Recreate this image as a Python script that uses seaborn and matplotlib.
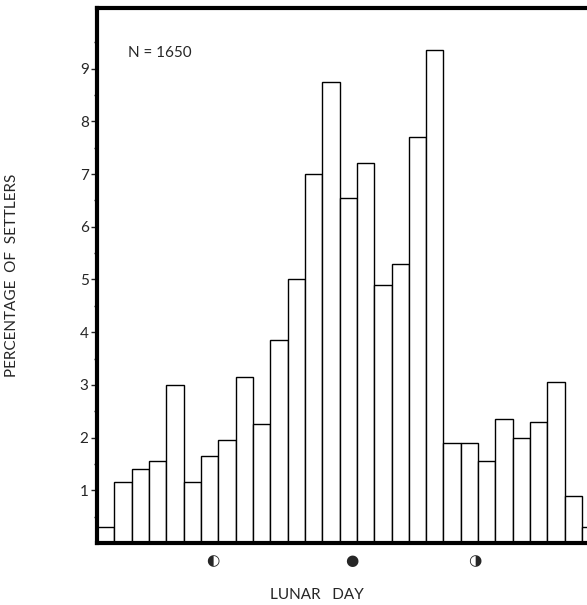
import matplotlib
matplotlib.use("Agg")
import matplotlib.pyplot as plt
import seaborn as sns
import numpy as np
import pandas as pd

sns.set_theme(style="white")
plt.rcParams["font.family"] = ["Lato", "DejaVu Sans"]

# ── Data ──────────────────────────────────────────────────────────────────────
days = list(range(1, 30))
percent = [0.3, 1.15, 1.4, 1.55, 3.0, 1.15, 1.65, 1.95, 3.15, 2.25, 3.85, 5.0,
           7.0, 8.75, 6.55, 7.2, 4.9, 5.3, 7.7, 9.35, 1.9, 1.9, 1.55, 2.35,
           2.0, 2.3, 3.05, 0.9, 0.3]
moon_pos = [6.67, 14.7, 21.8, 28.7]
moon_sym = ["◐", "●", "◑", "○"]

df = pd.DataFrame({"day": days, "pct": percent})

fig = plt.figure(figsize=(5.87, 6.05), dpi=100)
ax = fig.add_axes([97 / 587, 62 / 605, 1.03 - 97 / 587, 535 / 605])

ax.bar(df["day"] - 0.5, df["pct"], width=1.0, color="white",
       edgecolor="black", linewidth=1.0)

ax.set_xlim(0, 29.3)
ax.set_ylim(0, 10.15)
ax.set_yticks(range(1, 10))
ax.set_yticks(np.arange(0.5, 10, 0.5), minor=True)
ax.set_xticks([])
ax.tick_params(axis="y", which="major", direction="out", length=4, width=1,
               labelsize=11, left=True, pad=2)
ax.tick_params(axis="y", which="minor", direction="out", length=2, width=1, left=True)
for s in ax.spines.values():
    s.set_linewidth(3)
    s.set_color("black")

for x, sym in zip(moon_pos, moon_sym):
    ax.text(x, -0.33, sym, ha="center", va="center", fontsize=11,
            family=["DejaVu Sans"], clip_on=False)

ax.text(1.8, 9.3, "N = 1650", fontsize=11, ha="left", va="center")
ax.set_ylabel("PERCENTAGE  OF  SETTLERS", fontsize=11, labelpad=44)
fig.text(0.54, 0.017, "LUNAR   DAY", ha="center", va="center", fontsize=11)

fig.savefig("out.png", dpi=100)
